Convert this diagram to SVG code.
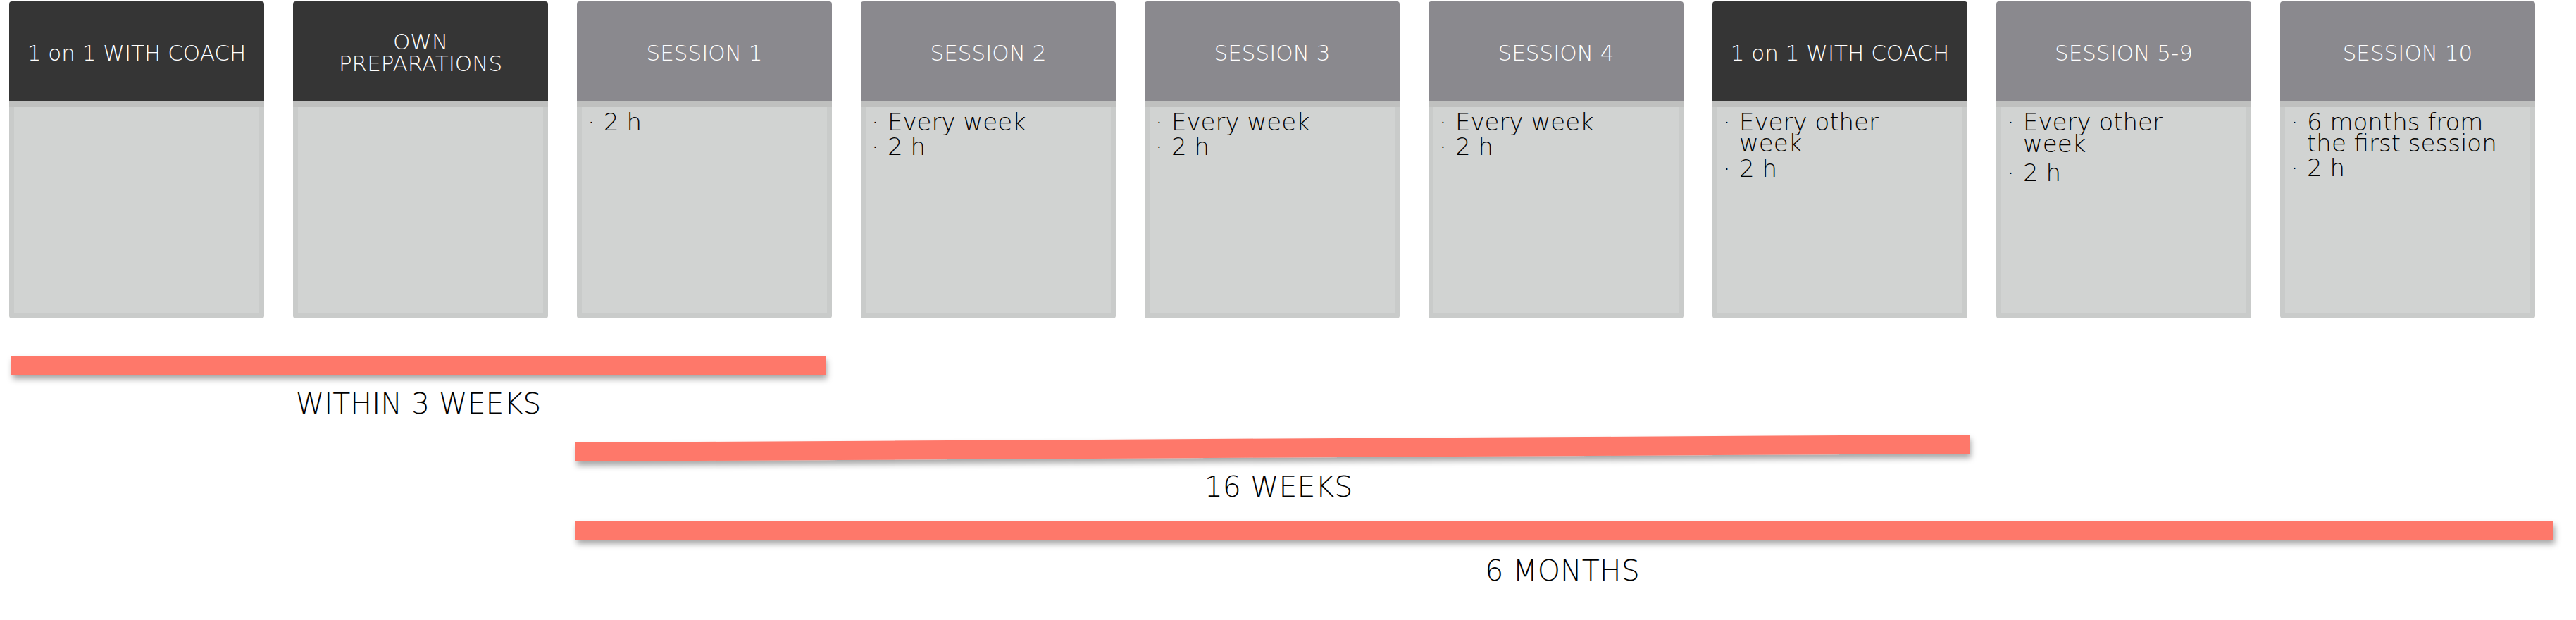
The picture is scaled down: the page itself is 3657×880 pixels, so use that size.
<svg xmlns="http://www.w3.org/2000/svg" width="3657" height="880" viewBox="0 0 3657 880">
<defs>
<style>
.bodyO{fill:#c9cbca}
.bodyI{fill:#d1d3d2}
.seam{fill:#bfc0bf}
.hdDark{fill:#353535}
.hdGray{fill:#8a898e}
.ht{font-family:"DejaVu Sans","Liberation Sans",sans-serif;font-weight:200;font-size:31px;fill:#ffffff;text-anchor:middle}
.bt{font-family:"DejaVu Sans","Liberation Sans",sans-serif;font-weight:200;font-size:34px;fill:#000000}
.lbl{font-family:"DejaVu Sans","Liberation Sans",sans-serif;font-weight:200;font-size:41px;fill:#000000;text-anchor:middle}
.bar{fill:#fe786a;filter:url(#sh)}
</style>
<filter id="sh" x="-5%" y="-100%" width="110%" height="300%">
<feDropShadow dx="2" dy="6" stdDeviation="4" flood-color="#000" flood-opacity="0.35"/>
</filter>
<g id="card">
<rect class="bodyO" x="0" y="130" width="362" height="322" rx="4"/>
<rect class="bodyI" x="7" y="152" width="348" height="292"/>
<rect class="seam" x="0" y="143" width="362" height="9"/>
</g>
</defs>
<rect width="3657" height="880" fill="#ffffff"/>

<g id="node1" transform="translate(13,0)">
<use href="#card"/>
<path class="hdDark" d="M0,143 V6 Q0,2 4,2 H358 Q362,2 362,6 V143 Z"/>
<text class="ht" x="181" y="86">1 on 1 WITH COACH</text>
</g>

<g id="node2" transform="translate(416,0)">
<use href="#card"/>
<path class="hdDark" d="M0,143 V6 Q0,2 4,2 H358 Q362,2 362,6 V143 Z"/>
<text class="ht" x="181" y="70">OWN<tspan x="181" dy="31">PREPARATIONS</tspan></text>
</g>

<g id="node3" transform="translate(819,0)">
<use href="#card"/>
<path class="hdGray" d="M0,143 V6 Q0,2 4,2 H358 Q362,2 362,6 V143 Z"/>
<text class="ht" x="181" y="86">SESSION 1</text>
<text class="bt" x="15" y="185">·</text><text class="bt" x="38" y="185">2 h</text>
</g>

<g id="node4" transform="translate(1222,0)">
<use href="#card"/>
<path class="hdGray" d="M0,143 V6 Q0,2 4,2 H358 Q362,2 362,6 V143 Z"/>
<text class="ht" x="181" y="86">SESSION 2</text>
<text class="bt" x="15" y="185">·</text><text class="bt" x="38" y="185">Every week</text>
<text class="bt" x="15" y="220">·</text><text class="bt" x="38" y="220">2 h</text>
</g>

<g id="node5" transform="translate(1625,0)">
<use href="#card"/>
<path class="hdGray" d="M0,143 V6 Q0,2 4,2 H358 Q362,2 362,6 V143 Z"/>
<text class="ht" x="181" y="86">SESSION 3</text>
<text class="bt" x="15" y="185">·</text><text class="bt" x="38" y="185">Every week</text>
<text class="bt" x="15" y="220">·</text><text class="bt" x="38" y="220">2 h</text>
</g>

<g id="node6" transform="translate(2028,0)">
<use href="#card"/>
<path class="hdGray" d="M0,143 V6 Q0,2 4,2 H358 Q362,2 362,6 V143 Z"/>
<text class="ht" x="181" y="86">SESSION 4</text>
<text class="bt" x="15" y="185">·</text><text class="bt" x="38" y="185">Every week</text>
<text class="bt" x="15" y="220">·</text><text class="bt" x="38" y="220">2 h</text>
</g>

<g id="node7" transform="translate(2431,0)">
<use href="#card"/>
<path class="hdDark" d="M0,143 V6 Q0,2 4,2 H358 Q362,2 362,6 V143 Z"/>
<text class="ht" x="181" y="86">1 on 1 WITH COACH</text>
<text class="bt" x="15" y="185">·</text><text class="bt" x="38" y="185">Every other<tspan x="38" dy="30">week</tspan></text>
<text class="bt" x="15" y="251">·</text><text class="bt" x="38" y="251">2 h</text>
</g>

<g id="node8" transform="translate(2834,0)">
<use href="#card"/>
<path class="hdGray" d="M0,143 V6 Q0,2 4,2 H358 Q362,2 362,6 V143 Z"/>
<text class="ht" x="181" y="86">SESSION 5-9</text>
<text class="bt" x="15" y="185">·</text><text class="bt" x="38" y="185">Every other<tspan x="38" dy="31">week</tspan></text>
<text class="bt" x="15" y="257">·</text><text class="bt" x="38" y="257">2 h</text>
</g>

<g id="node9" transform="translate(3237,0)">
<use href="#card"/>
<path class="hdGray" d="M0,143 V6 Q0,2 4,2 H358 Q362,2 362,6 V143 Z"/>
<text class="ht" x="181" y="86">SESSION 10</text>
<text class="bt" x="15" y="185">·</text><text class="bt" x="38" y="185">6 months from<tspan x="38" dy="30">the first session</tspan></text>
<text class="bt" x="15" y="250">·</text><text class="bt" x="38" y="250">2 h</text>
</g>

<g id="connectors">
<rect class="bar" x="16" y="505" width="1156" height="27"/>
<polygon class="bar" points="817,628 2796,617 2796,644 817,655"/>
<rect class="bar" x="817" y="739" width="2808" height="27"/>
</g>

<g id="labels">
<text class="lbl" x="594" y="587">WITHIN 3 WEEKS</text>
<text class="lbl" x="1815" y="705">16 WEEKS</text>
<text class="lbl" x="2218" y="824">6 MONTHS</text>
</g>
</svg>
